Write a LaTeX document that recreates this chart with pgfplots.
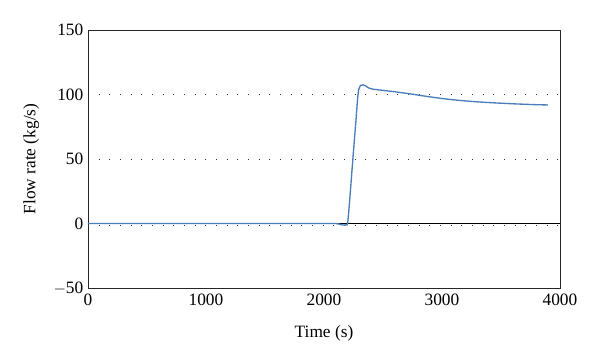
\documentclass[border=0pt]{standalone}
\usepackage{pgfplots}
\pgfplotsset{compat=1.18}
\usepackage{fontspec}
\setmainfont{Liberation Serif}
\definecolor{flowblue}{RGB}{74,126,187}
\begin{document}
\begin{tikzpicture}
\begin{axis}[
  name=ax,
  scale only axis,
  width=354pt, height=193.5pt,
  xmin=0, xmax=4000, ymin=-50, ymax=150,
  xtick={0,1000,2000,3000,4000},
  major tick length=0pt,
  /pgf/number format/assume math mode=true,
  /pgf/number format/1000 sep={},
  tick label style={font=\fontsize{13}{15}\selectfont},
  label style={font=\fontsize{13}{15}\selectfont},
  xticklabel style={yshift=-1pt},
  xlabel={Time (s)}, ylabel={Flow rate (kg/s)},
  xlabel style={yshift=-8pt},
  ylabel style={yshift=4pt},
  axis line style={black!85, line width=0.7pt},
  ymajorgrids,
  grid style={black!80, line width=0.7pt, dash pattern=on 0.7pt off 7.3pt},
  ytick={-50,50,100,150},
  yticklabels={$-$50,50,100,150},
  extra y ticks={0},
  extra y tick labels={0},
  extra y tick style={grid=none},
  clip=true,
]
\addplot[black!80, line width=0.7pt, dash pattern=on 0.7pt off 7.3pt, forget plot] coordinates {(0,-1.2) (4000,-1.2)};
\addplot[black, line width=0.9pt, forget plot] coordinates {(0,0) (4000,0)};
\addplot[flowblue, line width=1.0pt, smooth, tension=0.4] coordinates {
(0,0) (1000,0) (2000,0) (2100,0) (2130,-0.5) (2160,-1.2) (2190,-1.0) (2200,0)
(2215,15) (2237,41) (2255,62) (2271,80) (2285,97) (2295,104) (2310,107)
(2330,107.5) (2350,106.8) (2380,105) (2410,104.2) (2500,103.2) (2600,102.1)
(2730,100.5) (2850,98.8) (3000,96.9) (3150,95.4) (3350,94.0) (3600,92.8) (3800,92.1) (3898,91.9)
};
\end{axis}
\pgfresetboundingbox
\useasboundingbox ([xshift=-66pt,yshift=-57pt]ax.south west) rectangle ([xshift=30pt,yshift=22.5pt]ax.north east);
\end{tikzpicture}
\end{document}
